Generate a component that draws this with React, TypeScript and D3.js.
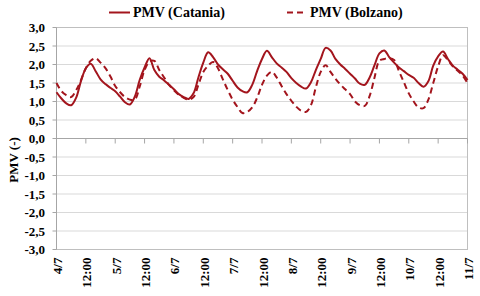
import * as d3 from 'd3'

// hours since 4/7 00:00, one reading every 2 h
const hours = d3.range(0, 169, 2)

const catania = [
  1.25, 1.08, 0.95, 0.9, 1.1, 1.55, 1.9, 2.02, 1.82, 1.6, 1.47, 1.37,
  1.28, 1.13, 0.98, 0.92, 1.13, 1.58, 1.92, 2.17, 1.85, 1.67, 1.57, 1.45,
  1.33, 1.2, 1.12, 1.07, 1.22, 1.65, 2.05, 2.33, 2.2, 2.0, 1.87, 1.75,
  1.56, 1.38, 1.28, 1.25, 1.45, 1.82, 2.15, 2.37, 2.2, 2.03, 1.92, 1.8,
  1.63, 1.5, 1.4, 1.35, 1.52, 1.85, 2.15, 2.45, 2.38, 2.15, 2.0, 1.88,
  1.75, 1.62, 1.48, 1.45, 1.65, 1.98, 2.3, 2.38, 2.2, 2.05, 1.92, 1.82,
  1.72, 1.64, 1.5, 1.4, 1.55, 1.97, 2.22, 2.35, 2.15, 1.97, 1.86, 1.75,
  1.58,
]

const bolzano = [
  1.5, 1.28, 1.17, 1.12, 1.3, 1.58, 1.9, 2.1, 2.17, 2.05, 1.9, 1.68,
  1.42, 1.25, 1.12, 1.05, 1.05, 1.4, 1.85, 2.08, 2.1, 1.85, 1.65, 1.45,
  1.3, 1.18, 1.1, 1.05, 1.12, 1.45, 1.8, 1.97, 2.07, 1.9, 1.6, 1.31,
  1.05, 0.85, 0.69, 0.72, 0.84, 1.1, 1.45, 1.7, 1.8, 1.65, 1.42, 1.2,
  1.02, 0.86, 0.75, 0.72, 0.9, 1.38, 1.8, 1.98, 1.8, 1.62, 1.46, 1.33,
  1.2, 1.0, 0.9, 0.88, 1.15, 1.65, 2.1, 2.15, 2.17, 2.12, 1.82, 1.52,
  1.22, 1.0, 0.84, 0.82, 1.05, 1.5, 1.95, 2.25, 2.12, 1.95, 1.83, 1.7,
  1.5,
]

const xTickLabels = ['4/7', '12:00', '5/7', '12:00', '6/7', '12:00', '7/7', '12:00', '8/7', '12:00', '9/7', '12:00', '10/7', '12:00', '11/7']
const yTicks = [3, 2.5, 2, 1.5, 1, 0.5, 0, -0.5, -1, -1.5, -2, -2.5, -3]

const W = 480
const H = 296
const m = { top: 27.5, right: 12.5, bottom: 46.5, left: 56.5 }
const RED = '#a3151d'
const FONT = '"Liberation Serif", "Times New Roman", serif'

export default function App() {
  const x = d3.scaleLinear().domain([0, 168]).range([m.left, W - m.right])
  const y = d3.scaleLinear().domain([-3, 3]).range([H - m.bottom, m.top])
  const fmt = (v: number) => v.toFixed(1).replace('.', ',')

  const line = d3.line<number>()
    .x((_, i) => x(hours[i]))
    .y(d => y(d))
    .curve(d3.curveCatmullRom.alpha(0.5))

  const tickHours = xTickLabels.map((_, i) => i * 12)

  return (
    <svg width={W} height={H} style={{ position: 'absolute', left: 0, top: 0, background: '#fff' }} fontFamily={FONT}>
      {/* grid */}
      {yTicks.map(t => (
        <line key={t} x1={m.left} x2={W - m.right} y1={y(t)} y2={y(t)} stroke="#d9d9d9" strokeWidth={1} />
      ))}
      <rect x={m.left} y={m.top} width={W - m.right - m.left} height={H - m.bottom - m.top}
        fill="none" stroke="#bfbfbf" strokeWidth={1} />

      {/* y axis */}
      <line x1={m.left} x2={m.left} y1={m.top} y2={H - m.bottom} stroke="#a6a6a6" />
      {yTicks.map(t => (
        <g key={'yt' + t}>
          <line x1={m.left - 4} x2={m.left} y1={y(t)} y2={y(t)} stroke="#a6a6a6" />
          <text x={45} y={y(t)} dy="0.35em" textAnchor="end" fontSize={13} fontWeight="bold" fill="#000">
            {fmt(t)}
          </text>
        </g>
      ))}

      {/* category axis crossing at zero */}
      <line x1={m.left} x2={W - m.right} y1={y(0)} y2={y(0)} stroke="#a6a6a6" />
      {tickHours.map((h, i) => (
        <g key={'xt' + i}>
          <line x1={x(h)} x2={x(h)} y1={y(0)} y2={y(0) + 5} stroke="#a6a6a6" />
          <text transform={`translate(${x(h) + 1},${H - m.bottom + 8}) rotate(-90)`} dy="0.35em"
            textAnchor="end" fontSize={13} fontWeight="bold" fill="#000">
            {xTickLabels[i]}
          </text>
        </g>
      ))}

      <text transform={`translate(17.5,160) rotate(-90)`} textAnchor="middle" fontSize={13} fontWeight="bold" fill="#000">
        PMV (-)
      </text>

      {/* series */}
      <path d={line(bolzano) || ''} fill="none" stroke={RED} strokeWidth={2} strokeDasharray="6,4" />
      <path d={line(catania) || ''} fill="none" stroke={RED} strokeWidth={2} />

      {/* legend */}
      <line x1={109} x2={130} y1={12.5} y2={12.5} stroke={RED} strokeWidth={2} />
      <text x={133} y={17} fontSize={14} fontWeight="bold" fill="#000">PMV (Catania)</text>
      <line x1={287} x2={306} y1={12.5} y2={12.5} stroke={RED} strokeWidth={2} strokeDasharray="6,4" />
      <text x={310} y={17} fontSize={14} fontWeight="bold" fill="#000">PMV (Bolzano)</text>
    </svg>
  )
}
